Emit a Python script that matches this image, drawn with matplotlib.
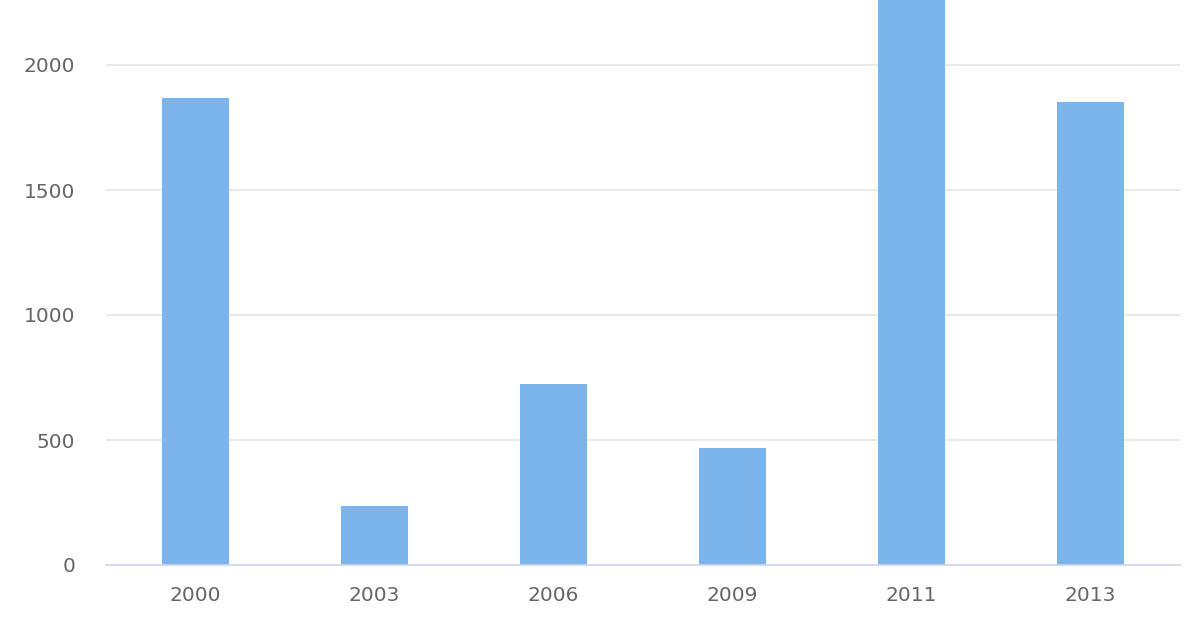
import matplotlib
matplotlib.use("Agg")
import matplotlib.pyplot as plt

years = ["2000", "2003", "2006", "2009", "2011", "2013"]
values = [1868, 236, 724, 468, 2400, 1852]

fig = plt.figure(figsize=(12, 6.4), dpi=100)
ax = fig.add_axes([106 / 1200, 75 / 640, 1074 / 1200, 565 / 640])

x = range(len(years))
ax.bar(x, values, width=0.37, color="#7cb5ec", zorder=3)

ax.set_xlim(-0.5, len(years) - 0.5)
ax.set_ylim(0, 2260)
ax.set_yticks([0, 500, 1000, 1500, 2000])
ax.set_xticks(list(x))
ax.set_xticklabels(years)

ax.grid(axis="y", color="#e6e6e6", linewidth=1.2, zorder=0)
for side in ["top", "right", "left"]:
    ax.spines[side].set_visible(False)
ax.spines["bottom"].set_color("#ccd6eb")
ax.spines["bottom"].set_linewidth(1.2)
ax.spines["bottom"].set_zorder(4)

ax.tick_params(axis="y", length=0, pad=22, labelsize=14.5, labelcolor="#666666")
ax.tick_params(axis="x", length=0, pad=15, labelsize=14.5, labelcolor="#666666")

fig.savefig("out.png", dpi=100)
